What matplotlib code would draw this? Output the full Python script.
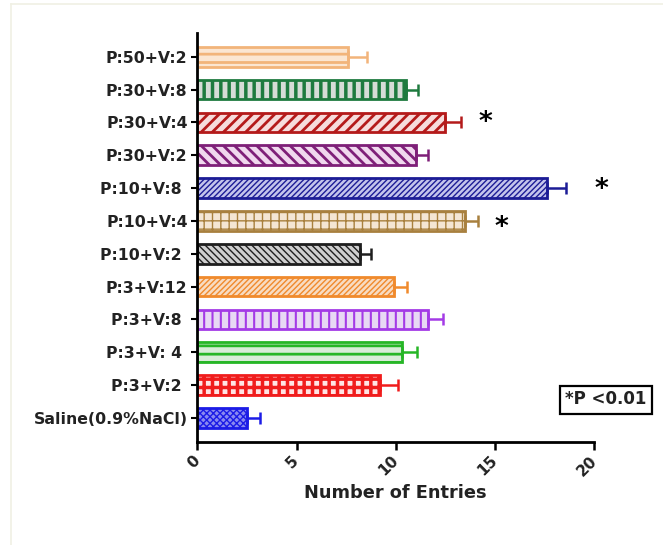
import matplotlib
matplotlib.use("Agg")
import matplotlib.pyplot as plt
import numpy as np

categories = ["P:50+V:2", "P:30+V:8", "P:30+V:4", "P:30+V:2", "P:10+V:8 ",
              "P:10+V:4", "P:10+V:2 ", "P:3+V:12", "P:3+V:8 ", "P:3+V: 4 ",
              "P:3+V:2 ", "Saline(0.9%NaCl)"]
means = [7.6, 10.5, 12.5, 11.0, 17.6, 13.5, 8.2, 9.9, 11.6, 10.3, 9.2, 2.5]
errors = [0.93, 0.6, 0.8, 0.64, 0.98, 0.64, 0.54, 0.67, 0.79, 0.76, 0.91, 0.67]
significant = [False, False, True, False, True, True, False, False, False, False, False, False]
x_ticks = [0, 5, 10, 15, 20]

edge_colors = ["#f2b47a", "#1e7a3e", "#b41a1a", "#7e1f78", "#1c1c96", "#a8803e",
               "#1e1e1e", "#f08a2c", "#a43ae6", "#26b626", "#f01c1c", "#1c1ce6"]
face_colors = ["#fbe6d2", "#d6dcd6", "#f6dcdc", "#f0d8ee", "#c4c4ec", "#f4e6d4",
               "#cfcfcf", "#f8dcc2", "#e8d8f4", "#d8ecd8", "#ffe4e4", "#8a8af0"]
hatches = ["--", "||", "///", "\\\\\\", "//////", "++", "\\\\\\\\\\", "//////",
           "||", "--", "++", "xxxxx"]
hatch_lw = [2.0, 2.5, 2.0, 2.0, 1.0, 1.0, 1.0, 1.0, 1.5, 2.0, 2.5, 1.0]
star_dy = [0, 0, -0.06, 0, -0.03, 0.15, 0, 0, 0, 0, 0, 0]

plt.rcParams['font.family'] = ['DejaVu Sans']
plt.rcParams['font.weight'] = 'bold'

fig = plt.figure(figsize=(6.63, 5.45), dpi=100)
ax = fig.add_axes([197.3/663, 1-441.7/545, (594.3-197.3)/663, (441.7-33)/545])

pos = np.arange(len(categories))
for i in range(len(categories)):
    with plt.rc_context({'hatch.linewidth': hatch_lw[i]}):
        ax.barh(pos[i], means[i], height=0.6, color=face_colors[i],
                edgecolor=edge_colors[i], hatch=hatches[i], linewidth=2, zorder=2)
    ax.errorbar(means[i], pos[i], xerr=[[0], [errors[i]]], fmt='none',
                ecolor=edge_colors[i], elinewidth=1.8, capsize=4, capthick=1.8, zorder=3)
    if significant[i]:
        xs = means[i] + errors[i] + (1.2 if means[i] < 17 else 1.8)
        ax.text(xs, pos[i] + 0.08 + star_dy[i], "*", fontsize=19, fontweight='bold',
                ha='center', va='center', zorder=4)

ax.set_ylim(11.72, -0.72)
ax.set_xlim(0, 20)
ax.set_yticks(pos)
ax.set_yticklabels(categories, fontsize=11.3, fontweight='bold', color='#222222')
ax.set_xticks(x_ticks)
ax.set_xticklabels([str(t) for t in x_ticks], fontsize=11, fontweight='bold', color='#222222')
for lab in ax.get_xticklabels():
    lab.set_rotation(45)
    lab.set_rotation_mode('anchor')
    lab.set_ha('right')
    lab.set_va('center')

ax.set_xlabel("Number of Entries", fontsize=12.8, fontweight='bold', labelpad=4, color='#222222')
for s in ['top', 'right']:
    ax.spines[s].set_visible(False)
for s in ['left', 'bottom']:
    ax.spines[s].set_linewidth(2)
ax.tick_params(axis='y', length=4, width=1.5, pad=3)
ax.tick_params(axis='x', length=6, width=1.8, pad=6)

fig.text(606/663, 1-399.5/545, "*P <0.01", fontsize=12, fontweight='bold',
         ha='center', va='center', color='#222222',
         bbox=dict(boxstyle='square,pad=0.3', facecolor='white', edgecolor='black', linewidth=1.6))

# faint frame of the original figure
fig.add_artist(plt.Line2D([11/663, 11/663], [0, 1-4/545], transform=fig.transFigure,
                          color='#f0f0e4', linewidth=1.2))
fig.add_artist(plt.Line2D([11/663, 1], [1-4/545, 1-4/545], transform=fig.transFigure,
                          color='#f0f0e4', linewidth=1.2))

fig.savefig("out.png", dpi=100)
